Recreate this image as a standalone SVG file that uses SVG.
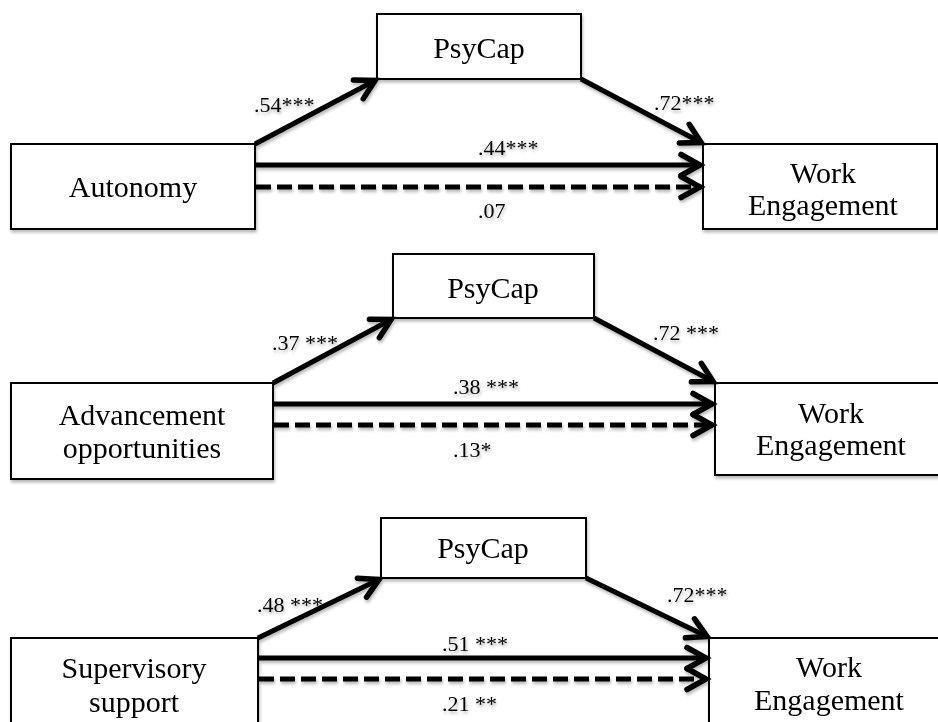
<svg xmlns="http://www.w3.org/2000/svg" width="938" height="722" viewBox="0 0 938 722">
<defs>
  <filter id="sh" x="-5%" y="-5%" width="115%" height="115%">
    <feDropShadow dx="1" dy="2.5" stdDeviation="1.8" flood-color="#000" flood-opacity="0.28"/>
  </filter>
  <marker id="ah" markerUnits="userSpaceOnUse" markerWidth="40" markerHeight="40" orient="auto" overflow="visible" refX="0" refY="0">
    <path d="M-20,-10.5 L-1,0 L-20,10.5" fill="none" stroke="#000" stroke-width="5.5" stroke-linecap="round" stroke-linejoin="miter" stroke-dasharray="none"/>
  </marker>
  <style>
    .box { fill: #fff; stroke: #000; stroke-width: 2; }
    .nt { font-family: "Liberation Serif", "DejaVu Serif", serif; font-size: 30px; fill: #000; text-anchor: middle; }
    .lb { font-family: "Liberation Serif", "DejaVu Serif", serif; font-size: 22px; fill: #000; }
    .sol { stroke: #000; stroke-width: 5; fill: none; marker-end: url(#ah); }
    .dsh { stroke: #000; stroke-width: 5; fill: none; stroke-dasharray: 15 6; marker-end: url(#ah); }
  </style>
</defs>
<rect width="938" height="722" fill="#fff"/>
<g filter="url(#sh)">
  <!-- Panel 1 -->
  <g id="autonomy">
    <rect class="box" x="11" y="144" width="244" height="85"/>
    <text class="nt" x="133" y="197">Autonomy</text>
  </g>
  <g id="psycap1">
    <rect class="box" x="377" y="14" width="204" height="65"/>
    <text class="nt" x="479" y="58">PsyCap</text>
  </g>
  <g id="work1">
    <rect class="box" x="703" y="144" width="234" height="85"/>
    <text class="nt" x="823" y="183">Work</text>
    <text class="nt" x="823" y="215">Engagement</text>
  </g>

  <!-- Panel 2 -->
  <g id="advancement">
    <rect class="box" x="11" y="383" width="262" height="96"/>
    <text class="nt" x="142" y="425">Advancement</text>
    <text class="nt" x="142" y="458">opportunities</text>
  </g>
  <g id="psycap2">
    <rect class="box" x="393" y="254" width="201" height="64"/>
    <text class="nt" x="493" y="298">PsyCap</text>
  </g>
  <g id="work2">
    <rect class="box" x="715" y="383" width="240" height="92"/>
    <text class="nt" x="831" y="423">Work</text>
    <text class="nt" x="831" y="455">Engagement</text>
  </g>

  <!-- Panel 3 -->
  <g id="supervisory">
    <rect class="box" x="11" y="638" width="247" height="100"/>
    <text class="nt" x="134" y="678">Supervisory</text>
    <text class="nt" x="134" y="712">support</text>
  </g>
  <g id="psycap3">
    <rect class="box" x="381" y="518" width="205" height="60"/>
    <text class="nt" x="483" y="558">PsyCap</text>
  </g>
  <g id="work3">
    <rect class="box" x="709" y="638" width="240" height="100"/>
    <text class="nt" x="829" y="677">Work</text>
    <text class="nt" x="829" y="710">Engagement</text>
  </g>

  <g id="connectors">
    <!-- panel 1 -->
    <line class="sol" x1="255" y1="144" x2="376" y2="80"/>
    <line class="sol" x1="581" y1="79" x2="702" y2="143"/>
    <line class="sol" x1="256" y1="165" x2="701" y2="165"/>
    <line class="dsh" x1="256" y1="187" x2="701" y2="187"/>
    <!-- panel 2 -->
    <line class="sol" x1="273" y1="383" x2="392" y2="319"/>
    <line class="sol" x1="594" y1="318" x2="714" y2="382"/>
    <line class="sol" x1="274" y1="404" x2="713" y2="404"/>
    <line class="dsh" x1="274" y1="425" x2="713" y2="425"/>
    <!-- panel 3 -->
    <line class="sol" x1="258" y1="638" x2="380" y2="579"/>
    <line class="sol" x1="586" y1="578" x2="708" y2="637"/>
    <line class="sol" x1="259" y1="658" x2="707" y2="658"/>
    <line class="dsh" x1="259" y1="679" x2="707" y2="679"/>
  </g>

  <g id="labels">
    <text class="lb" x="254" y="112">.54***</text>
    <text class="lb" x="654" y="110">.72***</text>
    <text class="lb" x="478" y="155">.44***</text>
    <text class="lb" x="478" y="218">.07</text>

    <text class="lb" x="272" y="350">.37 ***</text>
    <text class="lb" x="653" y="340">.72 ***</text>
    <text class="lb" x="453" y="394">.38 ***</text>
    <text class="lb" x="453" y="457">.13*</text>

    <text class="lb" x="257" y="612">.48 ***</text>
    <text class="lb" x="667" y="602">.72***</text>
    <text class="lb" x="442" y="651">.51 ***</text>
    <text class="lb" x="442" y="711">.21 **</text>
  </g>
</g>
</svg>
